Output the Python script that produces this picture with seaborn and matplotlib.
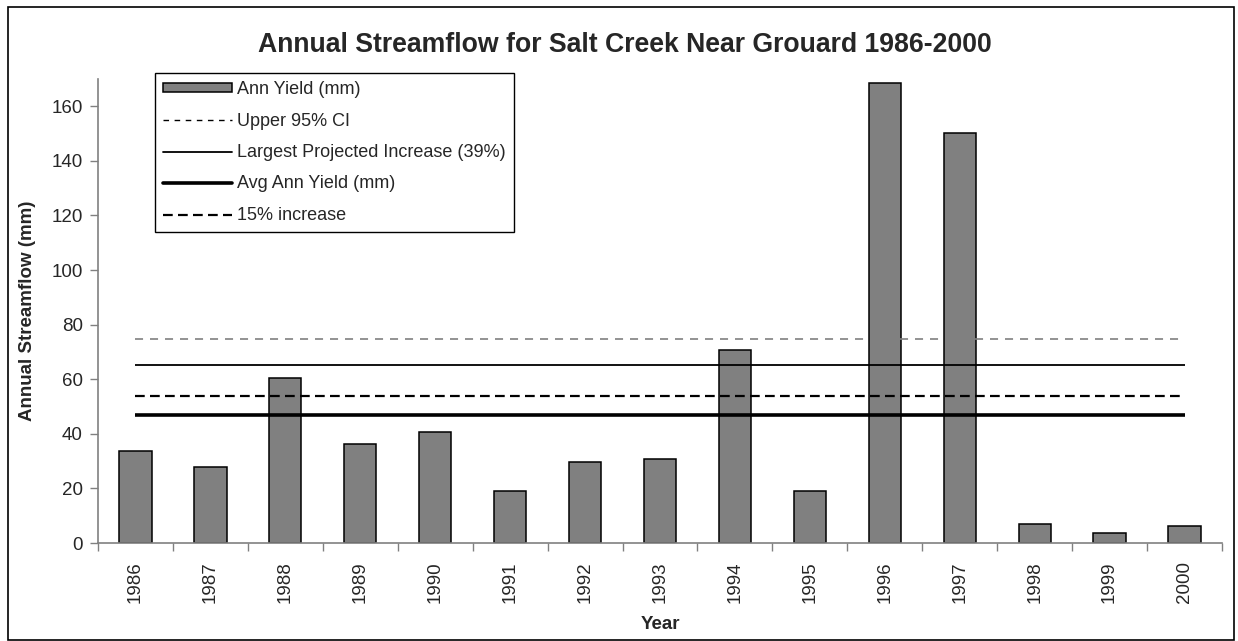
import matplotlib
matplotlib.use("Agg")
import matplotlib.pyplot as plt
import pandas as pd
import seaborn as sns
from matplotlib.lines import Line2D
from matplotlib.patches import Patch, Rectangle
from matplotlib.ticker import FixedLocator

# annual yield (mm)
YEARS = ["1986", "1987", "1988", "1989", "1990", "1991", "1992", "1993",
         "1994", "1995", "1996", "1997", "1998", "1999", "2000"]
ANN_YIELD = [33.8, 27.7, 60.4, 36.4, 40.7, 19.2, 29.6, 30.8,
             70.7, 19.2, 168.6, 150.3, 6.8, 3.8, 6.2]

# reference levels (mm)
UPPER_CI = 74.6
LARGEST_INCREASE = 65.2
AVG_YIELD = 46.9
INCREASE_15 = 53.9

W, H = 1238, 641

sns.set_style("white")
plt.rcParams["font.family"] = ["Liberation Sans", "DejaVu Sans"]
plt.rcParams["lines.scale_dashes"] = False

df = pd.DataFrame({"Year": YEARS, "Yield": ANN_YIELD})

fig = plt.figure(figsize=(W / 100, H / 100), dpi=100)
ax = fig.add_axes([98 / W, (H - 543) / H, (1222 - 98) / W, (543 - 79) / H])

sns.barplot(data=df, x="Year", y="Yield", color="#808080", saturation=1,
            width=0.43, edgecolor="black", linewidth=1.1, ax=ax, zorder=2)

x0, x1 = 0, len(YEARS) - 1
ax.hlines(UPPER_CI, x0, x1, color="#808080", lw=1.2, linestyles=(0, (5.8, 5)), zorder=3)
ax.hlines(LARGEST_INCREASE, x0, x1, color="black", lw=1.3, zorder=3)
ax.hlines(INCREASE_15, x0, x1, color="black", lw=1.6, linestyles=(0, (7, 3.8)), zorder=3)
ax.hlines(AVG_YIELD, x0, x1, color="black", lw=2.6, zorder=3)

ax.set_xlim(-0.5, len(YEARS) - 0.5)
ax.set_ylim(0, 170)
ax.set_yticks(range(0, 161, 20))

for s in ["top", "right"]:
    ax.spines[s].set_visible(False)
for s in ["left", "bottom"]:
    ax.spines[s].set_color("#808080")
    ax.spines[s].set_linewidth(1.2)

ax.tick_params(axis="y", direction="out", length=6, width=1, color="#808080",
               labelsize=13.5, pad=5, left=True)
ax.tick_params(axis="x", which="major", length=0, labelsize=13.5, pad=13,
               labelrotation=90)
ax.xaxis.set_minor_locator(FixedLocator([i - 0.5 for i in range(len(YEARS) + 1)]))
ax.tick_params(axis="x", which="minor", direction="out", length=6, width=1,
               color="#808080", bottom=True)

ax.set_xlabel("Year", fontsize=13.5, fontweight="bold")
ax.set_ylabel("Annual Streamflow (mm)", fontsize=13.5, fontweight="bold")
ax.xaxis.set_label_coords(0.5, (543 - 616) / 464)
ax.yaxis.set_label_coords((36 - 98) / 1124, 0.5)

fig.text(625 / W, 1 - 45 / H, "Annual Streamflow for Salt Creek Near Grouard 1986-2000",
         ha="center", va="center", fontsize=19.2, fontweight="bold")

handles = [
    Patch(facecolor="#808080", edgecolor="black", linewidth=1.1),
    Line2D([], [], color="black", lw=1.0, linestyle=(0, (4, 4))),
    Line2D([], [], color="black", lw=1.3),
    Line2D([], [], color="black", lw=2.6),
    Line2D([], [], color="black", lw=1.6, linestyle=(0, (7, 3.8))),
]
labels = ["Ann Yield (mm)", "Upper 95% CI", "Largest Projected Increase (39%)",
          "Avg Ann Yield (mm)", "15% increase"]
leg = ax.legend(handles, labels, loc="upper left", bbox_to_anchor=(155 / W, 1 - 73 / H),
                bbox_transform=fig.transFigure, borderaxespad=0, fontsize=13,
                frameon=True, fancybox=False, edgecolor="black", framealpha=1,
                handlelength=3.8, handleheight=0.35, handletextpad=0.3,
                labelspacing=0.8, borderpad=0.45)
leg.get_frame().set_linewidth(1.0)

fig.patches.append(Rectangle((8 / W, 1 / H), 1226 / W, 633 / H, transform=fig.transFigure,
                             fill=False, edgecolor="black", linewidth=1.2))

fig.savefig("out.png", dpi=100)
